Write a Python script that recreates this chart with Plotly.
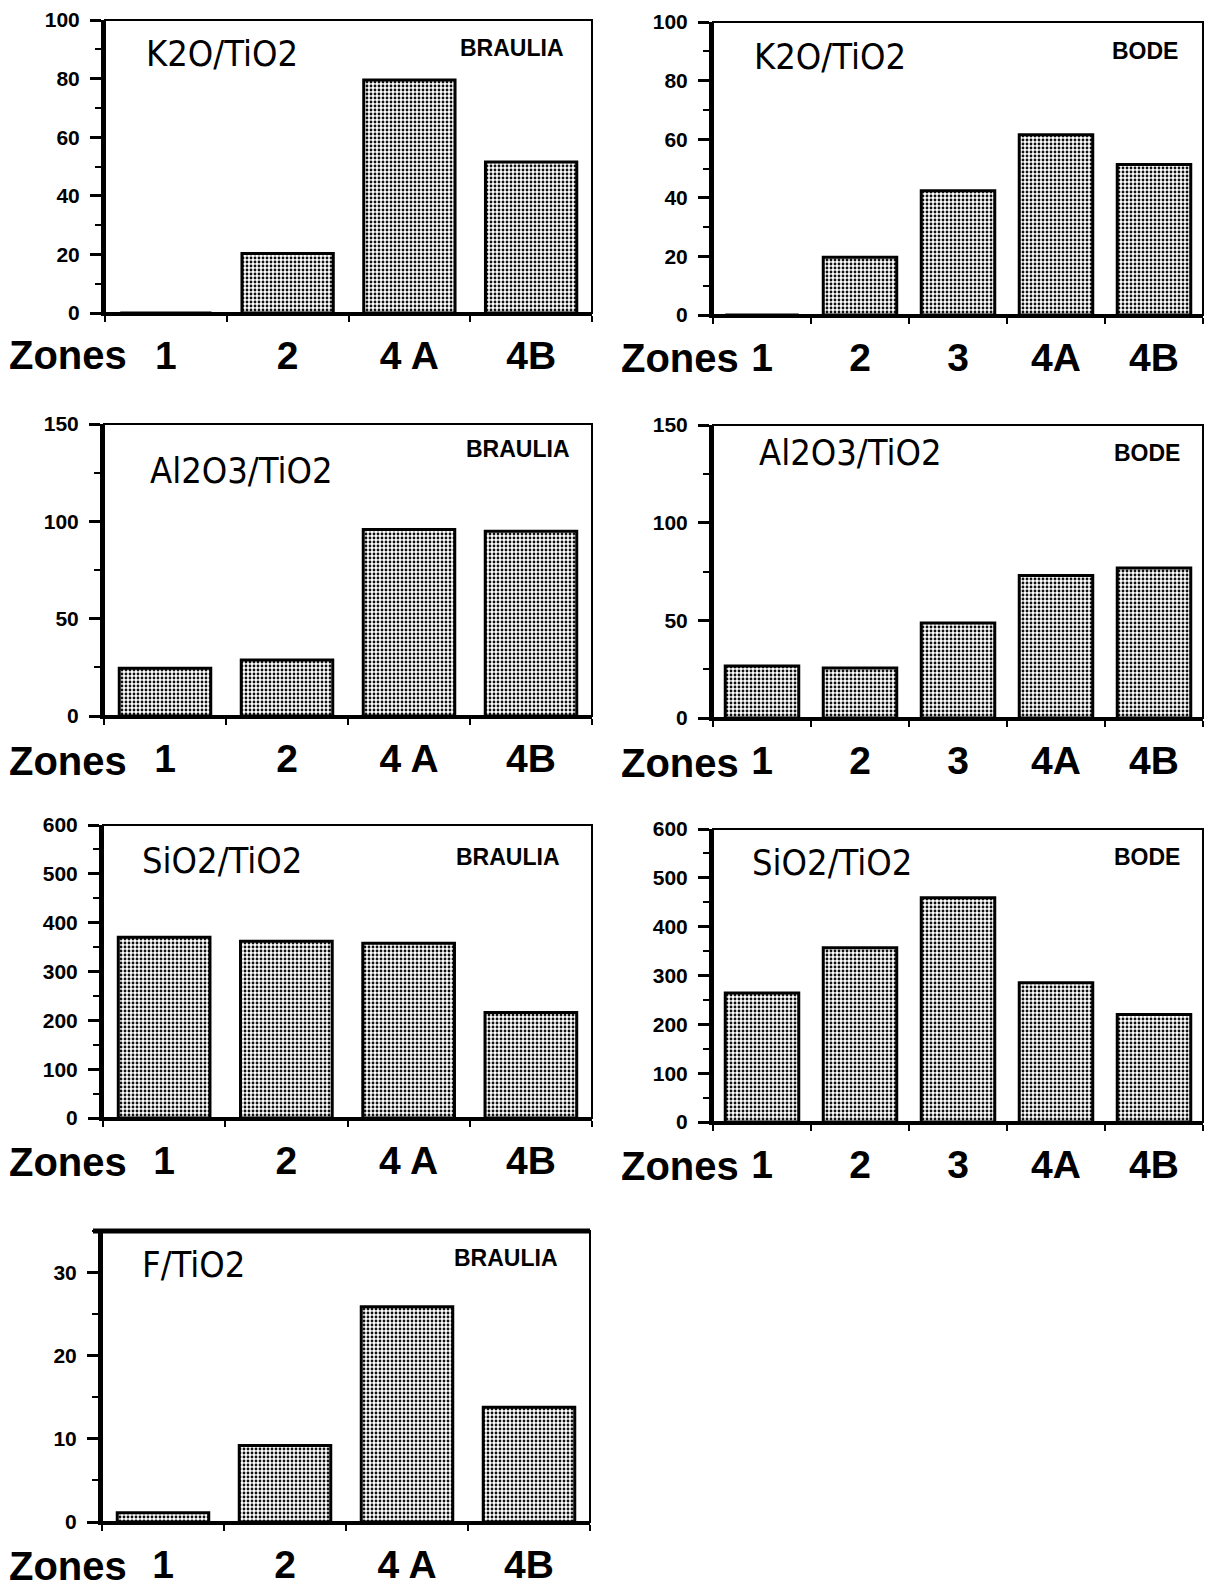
import plotly.graph_objects as go

W, H = 1208, 1595

# ---------------- data ----------------
zones_braulia = ["1", "2", "4 A", "4B"]
zones_bode = ["1", "2", "3", "4A", "4B"]

k2o_braulia = [0, 20.3, 79.5, 51.5]
k2o_bode = [0, 19.7, 42.4, 61.5, 51.4]
al2o3_braulia = [24.5, 28.8, 95.8, 94.9]
al2o3_bode = [26.6, 25.6, 48.6, 73.0, 76.8]
sio2_braulia = [370, 362, 358, 216]
sio2_bode = [264, 357, 459, 285, 220]
f_braulia = [1.1, 9.2, 25.9, 13.8]

# panel specs: (title, site, cats, values, ymax, dtick, minor)
panels = [
    ("K2O/TiO2", "BRAULIA", zones_braulia, k2o_braulia, 100, 20, 10),
    ("K2O/TiO2", "BODE", zones_bode, k2o_bode, 100, 20, 10),
    ("Al2O3/TiO2", "BRAULIA", zones_braulia, al2o3_braulia, 150, 50, 25),
    ("Al2O3/TiO2", "BODE", zones_bode, al2o3_bode, 150, 50, 25),
    ("SiO2/TiO2", "BRAULIA", zones_braulia, sio2_braulia, 600, 100, 50),
    ("SiO2/TiO2", "BODE", zones_bode, sio2_bode, 600, 100, 50),
    ("F/TiO2", "BRAULIA", zones_braulia, f_braulia, 35, 10, 5),
]

# pixel boxes (left, right, top, bottom) of each plot area
boxes = [
    (105, 592, 20, 313),
    (713, 1203, 22, 315),
    (104, 592, 424, 716),
    (713, 1203, 425, 718),
    (103, 592, 825, 1118),
    (713, 1203, 829, 1122),
    (102, 590, 1231, 1522),
]
title_pos = [(144, 54), (752, 56), (148, 471), (757, 452), (140, 860), (750, 862), (140, 1264)]
site_pos = [(566, 48), (1180, 51), (572, 449), (1182, 453), (562, 857), (1182, 857), (560, 1258)]
zones_pos = [(129, 355), (741, 358), (129, 761), (741, 763), (129, 1162), (741, 1166), (129, 1566)]

SANS = "Liberation Sans, Arial, Helvetica, sans-serif"
NARROW = "DejaVu Sans Condensed, Liberation Sans Narrow, Arial Narrow, Liberation Sans, sans-serif"

fig = go.Figure()
shapes = []
annotations = []
layout = {}

for i, (title, site, cats, vals, ymax, dt, mn) in enumerate(panels, start=1):
    l, r, t, b = boxes[i - 1]
    xs = "x" if i == 1 else f"x{i}"
    ys = "y" if i == 1 else f"y{i}"
    fig.add_trace(go.Bar(
        x=cats, y=vals, xaxis=xs, yaxis=ys, width=0.75,
        marker=dict(
            color="#ffffff",
            line=dict(color="black", width=3),
            pattern=dict(shape=".", fgcolor="#111111", bgcolor="#ffffff",
                         size=4, solidity=0.4, fillmode="replace"),
        ),
        showlegend=False, hoverinfo="skip",
    ))
    xk = "xaxis" if i == 1 else f"xaxis{i}"
    yk = "yaxis" if i == 1 else f"yaxis{i}"
    layout[xk] = dict(
        domain=[l / W, r / W], anchor=ys, type="category", automargin=False,
        categoryorder="array", categoryarray=cats,
        range=[-0.5, len(cats) - 0.5],
        showline=True, linecolor="black", linewidth=3,
        ticks="outside", tickson="boundaries", ticklen=6, tickwidth=2, tickcolor="black",
        tickfont=dict(family=SANS, size=39, color="black", weight="bold"),
        ticklabelstandoff=6,
        showgrid=False, zeroline=False, fixedrange=True,
    )
    layout[yk] = dict(
        domain=[1 - b / H, 1 - t / H], anchor=xs, automargin=False,
        range=[0, ymax], dtick=dt, tick0=0,
        showline=True, linecolor="black", linewidth=4,
        ticks="outside", ticklen=11, tickwidth=3, tickcolor="black",
        minor=dict(dtick=mn, ticks="outside", ticklen=6, tickwidth=2, tickcolor="black"),
        tickfont=dict(family=SANS, size=21, color="black", weight="bold"),
        ticklabelstandoff=6,
        showgrid=False, zeroline=False, fixedrange=True,
    )
    # frame
    xd = f"{xs} domain"
    yd = f"{ys} domain"
    shapes.append(dict(type="rect", xref=xd, yref=yd, x0=0, x1=1, y0=0, y1=1,
                       line=dict(color="black", width=2), layer="above"))
    # titles
    tx, ty = title_pos[i - 1]
    annotations.append(dict(text=title, x=tx / W, y=1 - ty / H, xref="paper", yref="paper",
                            xanchor="left", yanchor="middle", showarrow=False,
                            font=dict(family=NARROW, size=36, color="black")))
    sx, sy = site_pos[i - 1]
    annotations.append(dict(text=site, x=sx / W, y=1 - sy / H, xref="paper", yref="paper",
                            xanchor="right", yanchor="middle", showarrow=False,
                            font=dict(family=SANS, size=23, color="black", weight="bold")))
    zx, zy = zones_pos[i - 1]
    annotations.append(dict(text="Zones", x=zx / W, y=1 - zy / H, xref="paper", yref="paper",
                            xanchor="right", yanchor="middle", showarrow=False,
                            font=dict(family=SANS, size=40, color="black", weight="bold")))

# thick top line of the F/TiO2 panel
shapes.append(dict(type="line", xref="paper", yref="y7 domain", x0=93 / W, x1=590 / W,
                   y0=1, y1=1, line=dict(color="black", width=5), layer="above"))

fig.update_layout(
    width=W, height=H, margin=dict(l=0, r=0, t=0, b=0, autoexpand=False),
    paper_bgcolor="white", plot_bgcolor="white",
    shapes=shapes, annotations=annotations, showlegend=False, bargap=0.25,
    **layout,
)

pin = ("document.documentElement.style.margin='0';document.body.style.margin='0';"
       "document.body.style.overflow='hidden';"
       "var d=document.getElementById('{plot_id}');"
       "d.style.position='fixed';d.style.top='0px';d.style.left='0px';")

fig.write_html("out.html", post_script=pin, config={"displayModeBar": False})
